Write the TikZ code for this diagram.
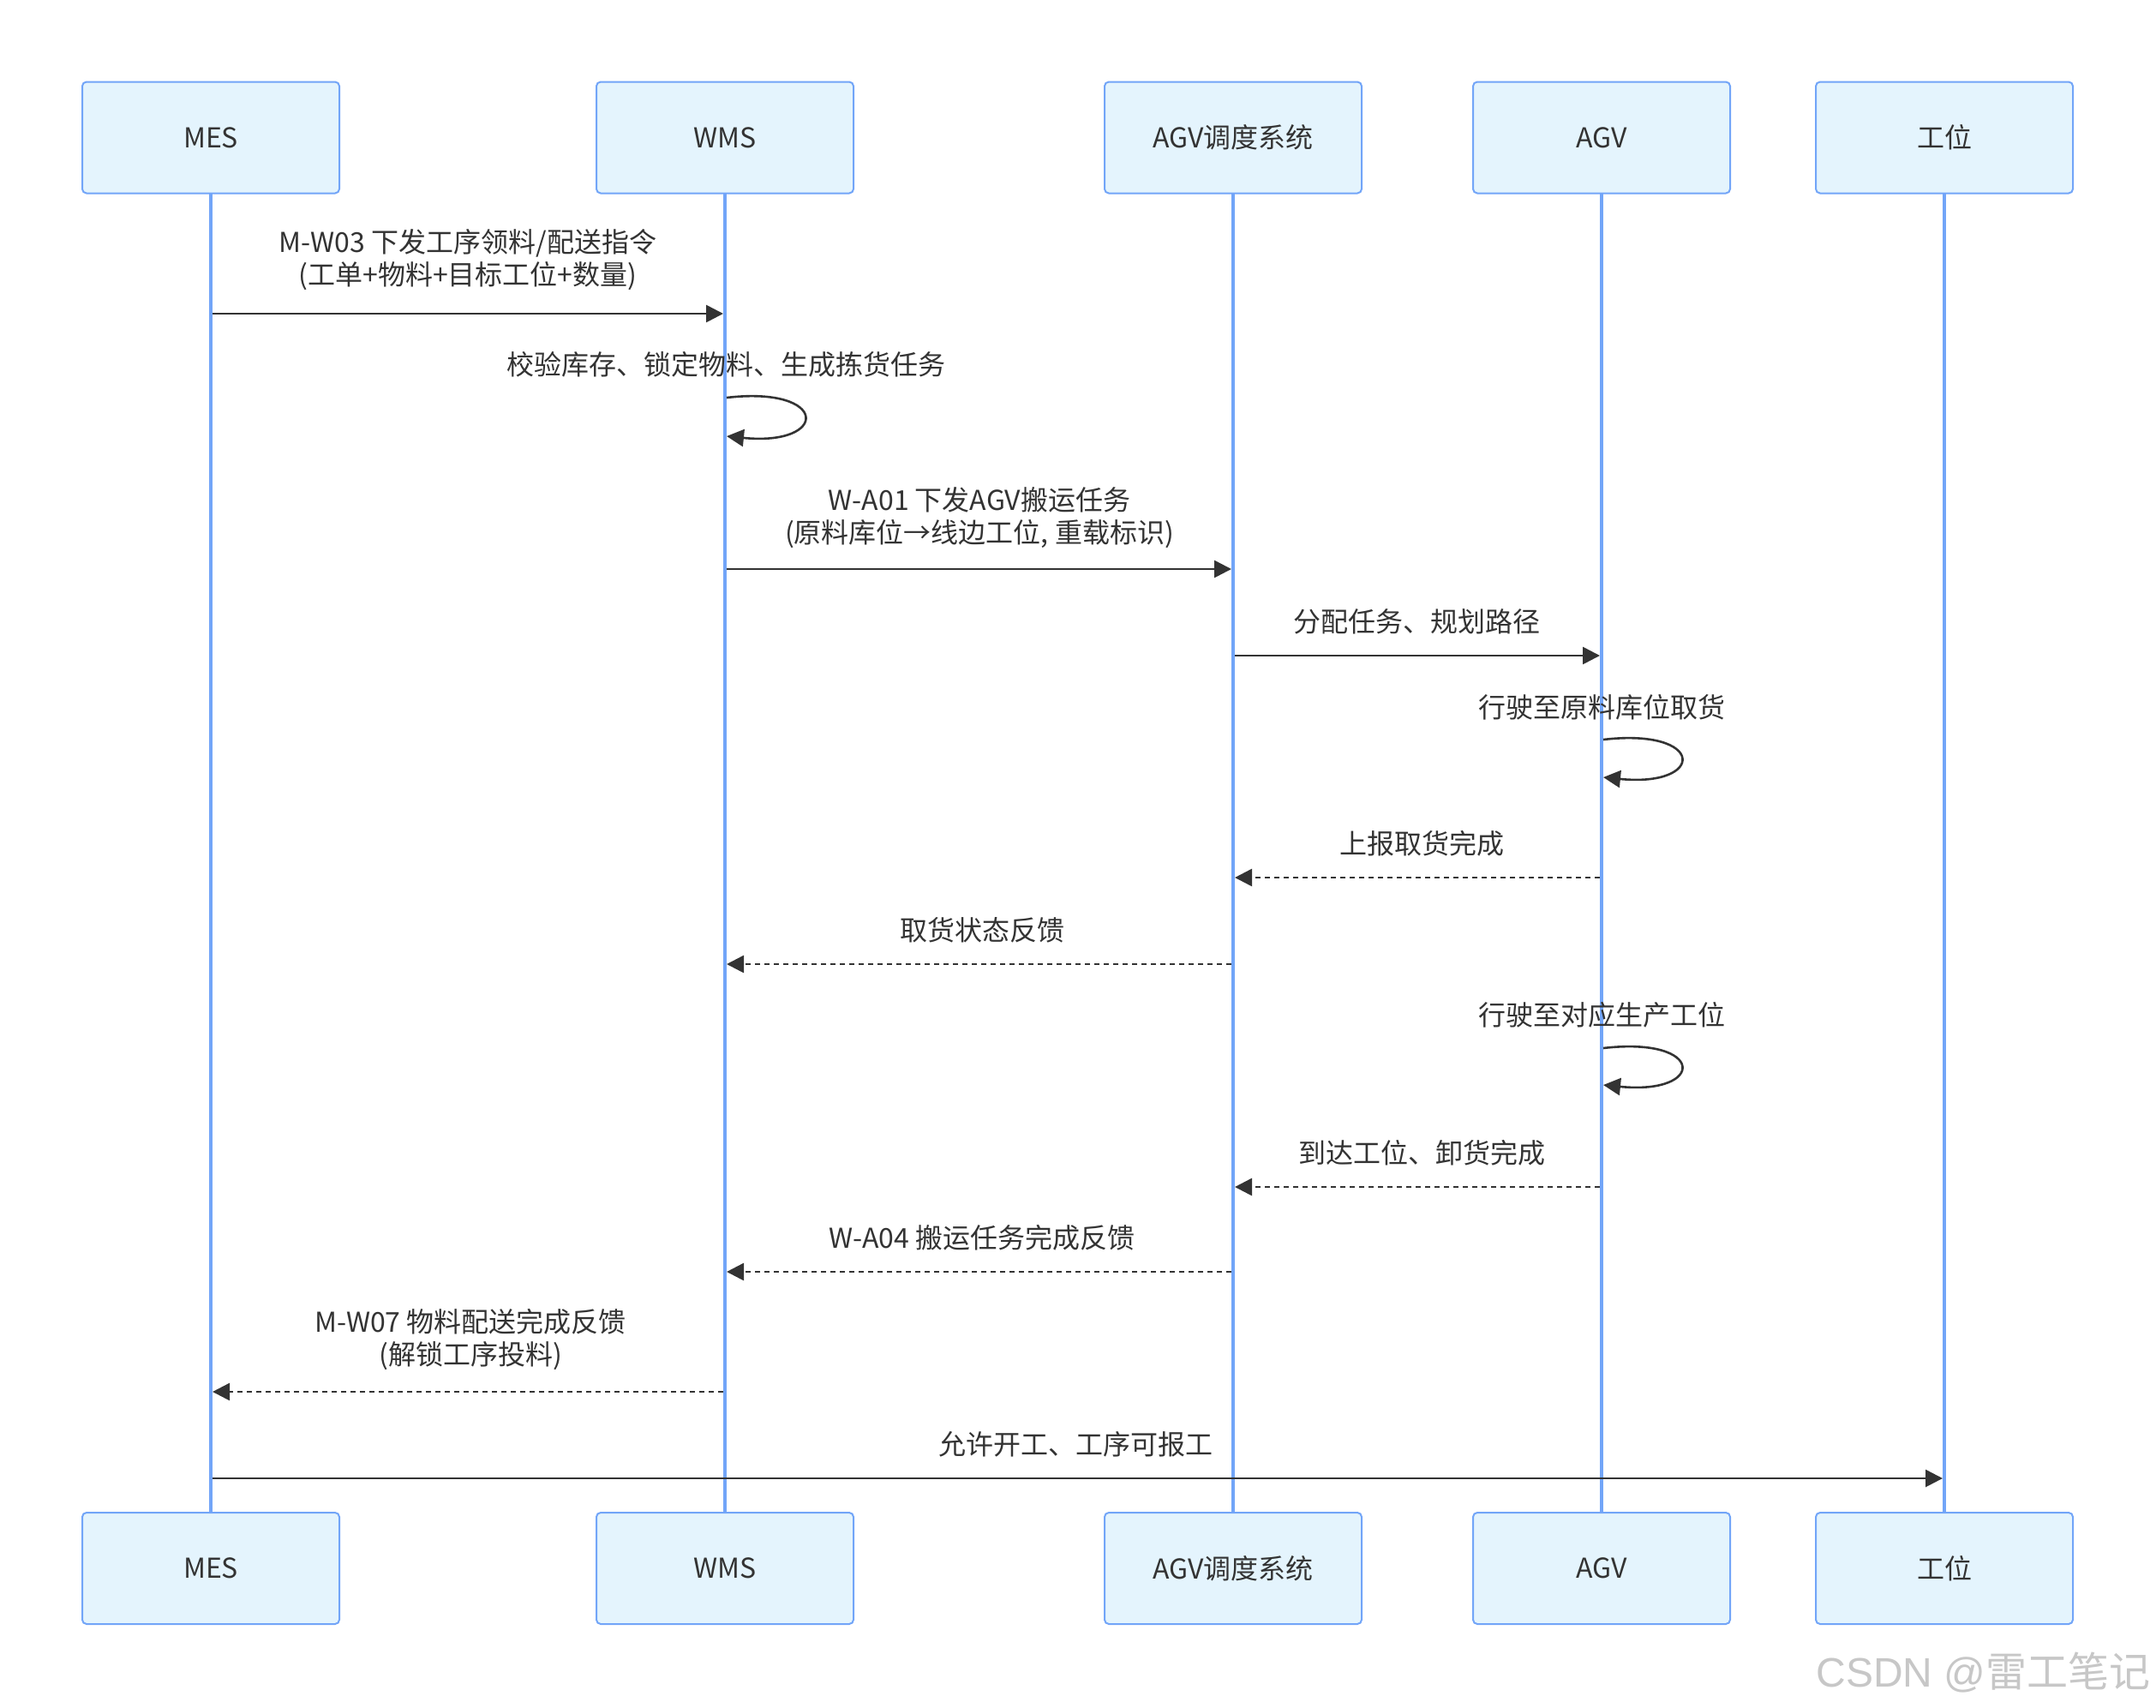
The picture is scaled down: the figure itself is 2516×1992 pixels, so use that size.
\documentclass[tikz,border=0pt]{standalone}
\usepackage{fontspec}
\setmainfont{Noto Sans CJK SC}
\newfontfamily\wmfont{Liberation Sans}
\usetikzlibrary{arrows.meta}
\definecolor{boxfill}{HTML}{E4F4FD}
\definecolor{boxline}{HTML}{72A5F8}
\definecolor{txt}{HTML}{333333}
\tikzset{
 actor/.style={draw=boxline, fill=boxfill, line width=1pt, rounded corners=2.5pt, minimum width=150pt, minimum height=65pt, text=txt, font=\fontsize{16}{19}\selectfont, inner sep=0pt},
 life/.style={draw=boxline, line width=2pt},
 msg/.style={draw=txt, line width=1.3pt, -{Triangle[length=10pt,width=10pt]}},
 reply/.style={msg, dash pattern=on 3pt off 2.5pt},
 lbl/.style={text=txt, font=\fontsize{16}{19}\selectfont, align=center, inner sep=0pt},
}
\begin{document}
\begin{tikzpicture}[x=0.5pt,y=-0.5pt]
\fill[white] (0,0) rectangle (2516,1992);
\useasboundingbox (0,0) rectangle (2516,1992);
% lifelines (drawn first, boxes cover their ends)
\coordinate (mesL1) at (246,226); \coordinate (mesL2) at (246,1765);
\coordinate (wmsL1) at (846,226); \coordinate (wmsL2) at (846,1765);
\coordinate (dspL1) at (1439,226); \coordinate (dspL2) at (1439,1765);
\coordinate (agvL1) at (1869,226); \coordinate (agvL2) at (1869,1765);
\coordinate (gwL1) at (2269,226); \coordinate (gwL2) at (2269,1765);
\draw[life] (mesL1) -- (mesL2);
\draw[life] (wmsL1) -- (wmsL2);
\draw[life] (dspL1) -- (dspL2);
\draw[life] (agvL1) -- (agvL2);
\draw[life] (gwL1) -- (gwL2);
% actors
\node[actor] (mesT) at (246,160.5) {MES};
\node[actor] (wmsT) at (846,160.5) {WMS};
\node[actor] (dspT) at (1439,160.5) {AGV调度系统};
\node[actor] (agvT) at (1869,160.5) {AGV};
\node[actor] (gwT) at (2269,160.5) {工位};
\node[actor] (mesB) at (246,1830) {MES};
\node[actor] (wmsB) at (846,1830) {WMS};
\node[actor] (dspB) at (1439,1830) {AGV调度系统};
\node[actor] (agvB) at (1869,1830) {AGV};
\node[actor] (gwB) at (2269,1830) {工位};
% points on lifelines
\coordinate (m1a) at (248,366);  \coordinate (m1b) at (844,366);
\coordinate (s1a) at (848,464);  \coordinate (s1b) at (848,509);
\coordinate (m3a) at (848,664);  \coordinate (m3b) at (1437,664);
\coordinate (m4a) at (1441,765); \coordinate (m4b) at (1867,765);
\coordinate (s2a) at (1871,863); \coordinate (s2b) at (1871,907);
\coordinate (m6a) at (1867,1024); \coordinate (m6b) at (1441,1024);
\coordinate (m7a) at (1437,1125); \coordinate (m7b) at (848,1125);
\coordinate (s3a) at (1871,1223); \coordinate (s3b) at (1871,1266);
\coordinate (m9a) at (1867,1385); \coordinate (m9b) at (1441,1385);
\coordinate (m10a) at (1437,1484); \coordinate (m10b) at (848,1484);
\coordinate (m11a) at (844,1624); \coordinate (m11b) at (248,1624);
\coordinate (m12a) at (248,1725); \coordinate (m12b) at (2267,1725);
% messages
\node[lbl] (l1) at (546,303) {M-W03 下发工序领料/配送指令\\(工单+物料+目标工位+数量)};
\draw[msg] (m1a) -- (m1b);
\node[lbl] (l2) at (847,425) {校验库存、锁定物料、生成拣货任务};
\draw[msg] (s1a) .. controls +(120,-14) and +(120,12) .. (s1b);
\node[lbl] (l3) at (1143,604) {W-A01 下发AGV搬运任务\\(原料库位→线边工位, 重载标识)};
\draw[msg] (m3a) -- (m3b);
\node[lbl] (l4) at (1653,725) {分配任务、规划路径};
\draw[msg] (m4a) -- (m4b);
\node[lbl] (l5) at (1869,825) {行驶至原料库位取货};
\draw[msg] (s2a) .. controls +(120,-14) and +(120,12) .. (s2b);
\node[lbl] (l6) at (1659,984) {上报取货完成};
\draw[reply] (m6a) -- (m6b);
\node[lbl] (l7) at (1146,1085) {取货状态反馈};
\draw[reply] (m7a) -- (m7b);
\node[lbl] (l8) at (1869,1184) {行驶至对应生产工位};
\draw[msg] (s3a) .. controls +(120,-14) and +(120,12) .. (s3b);
\node[lbl] (l9) at (1659,1345) {到达工位、卸货完成};
\draw[reply] (m9a) -- (m9b);
\node[lbl] (l10) at (1146,1444) {W-A04 搬运任务完成反馈};
\draw[reply] (m10a) -- (m10b);
\node[lbl] (l11) at (549,1563) {M-W07 物料配送完成反馈\\(解锁工序投料)};
\draw[reply] (m11a) -- (m11b);
\node[lbl] (l12) at (1255,1685) {允许开工、工序可报工};
\draw[msg] (m12a) -- (m12b);
% watermark
\node[anchor=east, text=black!22, font=\fontsize{24}{24}\selectfont, inner sep=0pt] (wm) at (2510,1952) {{\wmfont CSDN @}雷工笔记};
\end{tikzpicture}
\end{document}
